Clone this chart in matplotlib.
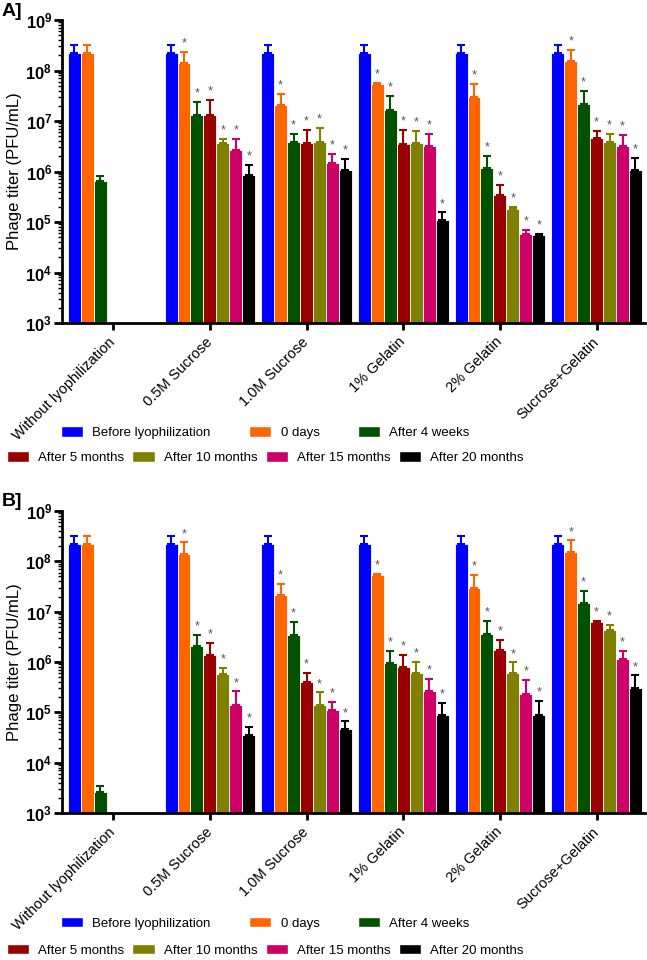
import numpy as np
import matplotlib
matplotlib.use("Agg")
from matplotlib import pyplot as plt
from matplotlib.patches import Patch

plt.rcParams['font.family'] = ['Liberation Sans', 'DejaVu Sans']
plt.rcParams['mathtext.fontset'] = 'custom'
plt.rcParams['mathtext.rm'] = 'Liberation Sans'
plt.rcParams['mathtext.bf'] = 'Liberation Sans:bold'

groups = ["Without lyophilization", "0.5M Sucrose", "1.0M Sucrose",
          "1% Gelatin", "2% Gelatin", "Sucrose+Gelatin"]
series = ["Before lyophilization", "0 days", "After 4 weeks", "After 5 months",
          "After 10 months", "After 15 months", "After 20 months"]
colors = ["#0000ff", "#ff6600", "#005200", "#990000", "#7f7f00", "#cc0066", "#000000"]
starred = [False, True, True, True, True, True]
nan = np.nan

# panel A: titer and upper error (PFU/mL)
a_vals = [
    [2.2e8, 2.2e8, 2.2e8, 2.2e8, 2.2e8, 2.2e8],
    [2.2e8, 1.4e8, 2.1e7, 5.4e7, 3.0e7, 1.55e8],
    [6.5e5, 1.3e7, 3.8e6, 1.66e7, 1.2e6, 2.2e7],
    [nan, 1.3e7, 3.6e6, 3.5e6, 3.5e5, 4.7e6],
    [nan, 3.7e6, 3.8e6, 3.7e6, 1.8e5, 3.9e6],
    [nan, 2.7e6, 1.45e6, 3.2e6, 5.9e4, 3.2e6],
    [nan, 8.5e5, 1.07e6, 1.1e5, 5.6e4, 1.07e6],
]
a_errs = [
    [1.0e8, 1.0e8, 1.0e8, 1.0e8, 1.0e8, 1.0e8],
    [1.0e8, 0.95e8, 1.4e7, 2e6, 2.5e7, 1.05e8],
    [1.5e5, 1.1e7, 1.8e6, 1.5e7, 0.8e6, 1.7e7],
    [nan, 1.3e7, 3.0e6, 3.1e6, 1.9e5, 1.8e6],
    [nan, 0.7e6, 3.6e6, 2.6e6, 1.6e4, 1.6e6],
    [nan, 1.7e6, 0.75e6, 2.3e6, 1.0e4, 2.1e6],
    [nan, 5.0e5, 0.73e6, 0.45e5, 1e3, 0.8e6],
]

# panel B
b_vals = [
    [2.2e8, 2.2e8, 2.2e8, 2.2e8, 2.2e8, 2.2e8],
    [2.2e8, 1.37e8, 2.1e7, 5.4e7, 2.9e7, 1.5e8],
    [2.6e3, 2.1e6, 3.5e6, 9.4e5, 3.6e6, 1.48e7],
    [nan, 1.35e6, 4.0e5, 8.0e5, 1.75e6, 6.3e6],
    [nan, 5.8e5, 1.38e5, 6.1e5, 6.1e5, 4.3e6],
    [nan, 1.4e5, 1.1e5, 2.6e5, 2.3e5, 1.15e6],
    [nan, 3.5e4, 4.6e4, 8.7e4, 8.9e4, 3.0e5],
]
b_errs = [
    [1.0e8, 1.0e8, 1.0e8, 1.0e8, 1.0e8, 1.0e8],
    [1.0e8, 1.0e8, 1.4e7, 2e6, 2.5e7, 1.1e8],
    [0.9e3, 1.4e6, 2.8e6, 0.72e6, 3.0e6, 1.1e7],
    [nan, 1.05e6, 2.0e5, 0.6e6, 0.95e6, 2e5],
    [nan, 1.8e5, 1.1e5, 0.4e6, 0.37e6, 1.2e6],
    [nan, 1.2e5, 0.5e5, 2.1e5, 2.1e5, 0.5e6],
    [nan, 1.6e4, 2.0e4, 6.8e4, 8.1e4, 2.4e5],
]

yticks = [1e3, 1e4, 1e5, 1e6, 1e7, 1e8, 1e9]
ytick_labels = [r"$\mathbf{10^{%d}}$" % e for e in range(3, 10)]
base = 1e3

fig = plt.figure(figsize=(6.47, 9.6), dpi=100)
width = 0.134


def paint_panel(ax, vals, errs):
    x = np.arange(len(groups))
    for i in range(len(series)):
        xi = x + (i - 3) * width
        v = np.array(vals[i])
        e = np.array(errs[i])
        ok = ~np.isnan(v)
        ax.bar(xi[ok], v[ok] - base, width=width, bottom=base, color=colors[i],
               edgecolor="white", linewidth=0.6, zorder=2)
        ax.errorbar(xi[ok], v[ok], yerr=[np.zeros(ok.sum()), e[ok]], fmt="none",
                    ecolor=colors[i], elinewidth=1.5, capsize=3, capthick=1.5, zorder=3)
        if i > 0:
            for j in range(len(groups)):
                if ok[j] and starred[j]:
                    ax.text(xi[j], (v[j] + e[j]) * 1.12, "*", color="#555555",
                            ha="center", va="bottom", fontsize=9, zorder=4)
    ax.set_yscale("log")
    ax.set_ylim(base, 1e9)
    ax.set_xlim(-0.53, 5.5)
    ax.set_yticks(yticks)
    ax.set_yticklabels(ytick_labels, fontsize=12)
    ax.set_xticks(x)
    ax.set_xticklabels(groups, rotation=45, ha="right", va="center",
                       rotation_mode="anchor", fontsize=10.5)
    ax.set_ylabel("Phage titer (PFU/mL)", fontsize=12, labelpad=2)
    ax.spines["top"].set_visible(False)
    ax.spines["right"].set_visible(False)
    ax.spines["left"].set_linewidth(2)
    ax.spines["bottom"].set_linewidth(2)
    ax.tick_params(axis="y", which="major", width=2, length=6, pad=1)
    ax.tick_params(axis="y", which="minor", width=1, length=3)
    ax.tick_params(axis="x", width=2, length=5, pad=7)


ax1 = fig.add_axes([0.0958, 0.6635, 0.901, 0.3156])
paint_panel(ax1, a_vals, a_errs)
ax2 = fig.add_axes([0.0958, 0.1531, 0.901, 0.3146])
paint_panel(ax2, b_vals, b_errs)

fig.text(0.002, 0.988, "A]", fontsize=14, fontweight="bold", va="center")
fig.text(0.002, 0.478, "B]", fontsize=14, fontweight="bold", va="center")

handles = [Patch(facecolor=c, edgecolor="white") for c in colors]
for y1, y2 in [(0.549, 0.523), (0.0385, 0.0104)]:
    fig.legend(handles[:3], series[:3], loc="center", bbox_to_anchor=(0.41, y1),
               ncol=3, frameon=False, fontsize=9.5, columnspacing=2.9,
               handlelength=1.7, handleheight=0.9, handletextpad=0.7, borderpad=0)
    fig.legend(handles[3:], series[3:], loc="center", bbox_to_anchor=(0.41, y2),
               ncol=4, frameon=False, fontsize=9.5, columnspacing=0.6,
               handlelength=1.7, handleheight=0.9, handletextpad=0.7, borderpad=0)

plt.savefig("out.png", dpi=100)
